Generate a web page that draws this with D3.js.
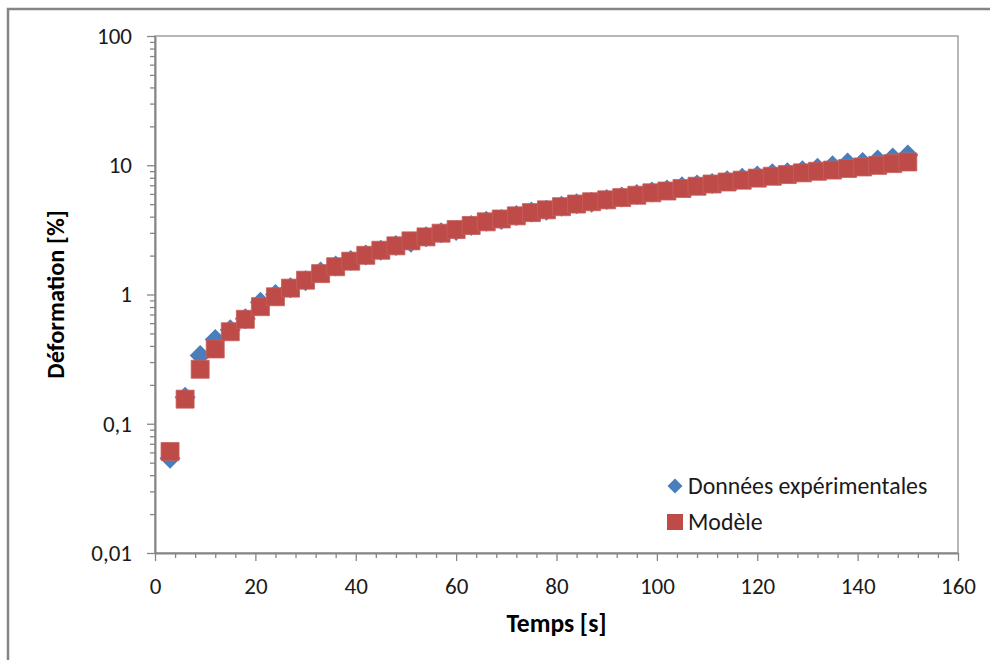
<!DOCTYPE html>
<html>
<head>
<meta charset="utf-8">
<script src="https://cdn.jsdelivr.net/npm/d3@7"></script>
<style>
  body { margin: 0; background: #fff; }
  svg { display: block; font-family: Calibri, Carlito, Lato, sans-serif; }
</style>
</head>
<body>
<svg id="chart" width="990" height="660"></svg>
<script>
// Creep data: experimental strain vs model, log scale
const temps = [3, 6, 9, 12, 15, 18, 21, 24, 27, 30, 33, 36, 39, 42, 45, 48, 51, 54, 57, 60,
  63, 66, 69, 72, 75, 78, 81, 84, 87, 90, 93, 96, 99, 102, 105, 108, 111, 114, 117, 120,
  123, 126, 129, 132, 135, 138, 141, 144, 147, 150];

const experimental = [0.054, 0.16, 0.337, 0.449, 0.533, 0.648, 0.871, 1.0, 1.13, 1.28,
  1.49, 1.66, 1.83, 2.02, 2.20, 2.39, 2.54, 2.80, 3.00, 3.13,
  3.42, 3.69, 3.80, 4.08, 4.34, 4.49, 4.82, 5.04, 5.18, 5.44,
  5.68, 5.94, 6.21, 6.43, 6.82, 7.03, 7.24, 7.59, 7.93, 8.26,
  8.61, 8.75, 9.08, 9.47, 9.93, 10.4, 10.5, 11.0, 11.4, 12.0];

const modele = [0.061, 0.155, 0.264, 0.379, 0.515, 0.643, 0.805, 0.96, 1.12, 1.29,
  1.45, 1.64, 1.81, 2.01, 2.20, 2.38, 2.60, 2.79, 2.98, 3.18,
  3.42, 3.65, 3.84, 4.06, 4.30, 4.52, 4.78, 5.01, 5.22, 5.40,
  5.62, 5.86, 6.12, 6.32, 6.61, 6.88, 7.16, 7.42, 7.66, 7.95,
  8.22, 8.47, 8.73, 8.98, 9.18, 9.44, 9.70, 9.98, 10.3, 10.6];

const xTicks = [0, 20, 40, 60, 80, 100, 120, 140, 160];
const yTicks = [0.01, 0.1, 1, 10, 100];
const yTickLabels = ['0,01', '0,1', '1', '10', '100'];
const seriesNames = ['Données expérimentales', 'Modèle'];

const blue = '#4a7ebb';
const red = '#be4b48';

const svg = d3.select('#chart');
const margin = {top: 36, right: 32, bottom: 107, left: 155};
const width = +svg.attr('width') - margin.left - margin.right;
const height = +svg.attr('height') - margin.top - margin.bottom;

// outer chart frame (runs off the right/bottom of the picture)
svg.append('rect')
    .attr('x', 8).attr('y', 9)
    .attr('width', 1000).attr('height', 700)
    .attr('fill', 'none')
    .attr('stroke', '#858585')
    .attr('stroke-width', 2.5);

const g = svg.append('g').attr('transform', `translate(${margin.left}, ${margin.top})`);

const x = d3.scaleLinear().domain([0, 160]).range([0, width]);
const y = d3.scaleLog().domain([0.01, 100]).range([height, 0]);

// plot area border
g.append('rect')
    .attr('width', width).attr('height', height)
    .attr('fill', 'none')
    .attr('stroke', '#a0a0a0')
    .attr('stroke-width', 1.5);

// minor ticks
const xMinor = d3.range(0, 161, 4).filter(v => v % 20 !== 0);
g.append('g')
    .attr('transform', `translate(0,${height})`)
    .call(d3.axisBottom(x).tickValues(xMinor).tickSize(5).tickFormat(''))
    .call(a => a.select('.domain').remove())
    .call(a => a.selectAll('line').attr('stroke', '#868686').attr('stroke-width', 1.3));

const yMinor = [];
[0.01, 0.1, 1, 10].forEach(d => { for (let k = 2; k <= 9; k++) yMinor.push(d * k); });
g.append('g')
    .call(d3.axisLeft(y).tickValues(yMinor).tickSize(5).tickFormat(''))
    .call(a => a.select('.domain').remove())
    .call(a => a.selectAll('line').attr('stroke', '#868686').attr('stroke-width', 1.3));

// major axes
g.append('g')
    .attr('transform', `translate(0,${height})`)
    .call(d3.axisBottom(x).tickValues(xTicks).tickSize(8).tickPadding(17).tickSizeOuter(0))
    .call(a => a.select('.domain').attr('stroke', '#868686').attr('stroke-width', 2))
    .call(a => a.selectAll('line').attr('stroke', '#868686').attr('stroke-width', 1.3))
    .call(a => a.selectAll('text').attr('font-size', 23).attr('fill', '#1a1a1a')
        .attr('font-family', 'Calibri, Carlito, Lato, sans-serif'));

g.append('g')
    .call(d3.axisLeft(y).tickValues(yTicks).tickSize(8).tickPadding(15).tickSizeOuter(0)
        .tickFormat((d, i) => yTickLabels[i]))
    .call(a => a.select('.domain').attr('stroke', '#868686').attr('stroke-width', 2))
    .call(a => a.selectAll('line').attr('stroke', '#868686').attr('stroke-width', 1.3))
    .call(a => a.selectAll('text').attr('font-size', 23).attr('fill', '#1a1a1a')
        .attr('font-family', 'Calibri, Carlito, Lato, sans-serif'));

// axis titles
g.append('text')
    .attr('x', width / 2)
    .attr('y', height + 79)
    .attr('text-anchor', 'middle')
    .attr('font-size', 25.5)
    .attr('font-weight', 'bold')
    .text('Temps [s]');

g.append('text')
    .attr('transform', `translate(${-91}, ${height / 2}) rotate(-90)`)
    .attr('text-anchor', 'middle')
    .attr('font-size', 24.5)
    .attr('font-weight', 'bold')
    .text('Déformation [%]');

const diamond = r => `M0,${-r}L${r},0L0,${r}L${-r},0Z`;
const square = s => `M${-s / 2},${-s / 2}h${s}v${s}h${-s}Z`;

const data = temps.map((t, i) => ({t, exp: experimental[i], mod: modele[i]}));

// experimental points (drawn first, under the model)
g.selectAll('.exp')
    .data(data)
    .enter().append('path')
    .attr('class', 'exp')
    .attr('transform', d => `translate(${x(d.t)},${y(d.exp)})`)
    .attr('d', diamond(10.5))
    .attr('fill', blue);

g.selectAll('.mod')
    .data(data)
    .enter().append('path')
    .attr('class', 'mod')
    .attr('transform', d => `translate(${x(d.t)},${y(d.mod)})`)
    .attr('d', square(18))
    .attr('fill', red)
    .attr('stroke', '#c5605d')
    .attr('stroke-width', 0.8);

// legend
const legend = svg.append('g').attr('transform', 'translate(675, 486)');
legend.append('path').attr('d', diamond(7.5)).attr('fill', blue);
legend.append('text').attr('x', 13).attr('y', 7.5).attr('font-size', 23.8).attr('fill', '#1a1a1a').text(seriesNames[0]);
legend.append('path').attr('transform', 'translate(0, 36)').attr('d', square(16)).attr('fill', red);
legend.append('text').attr('x', 13).attr('y', 43.5).attr('font-size', 23.8).attr('fill', '#1a1a1a').text(seriesNames[1]);
</script>
</body>
</html>
